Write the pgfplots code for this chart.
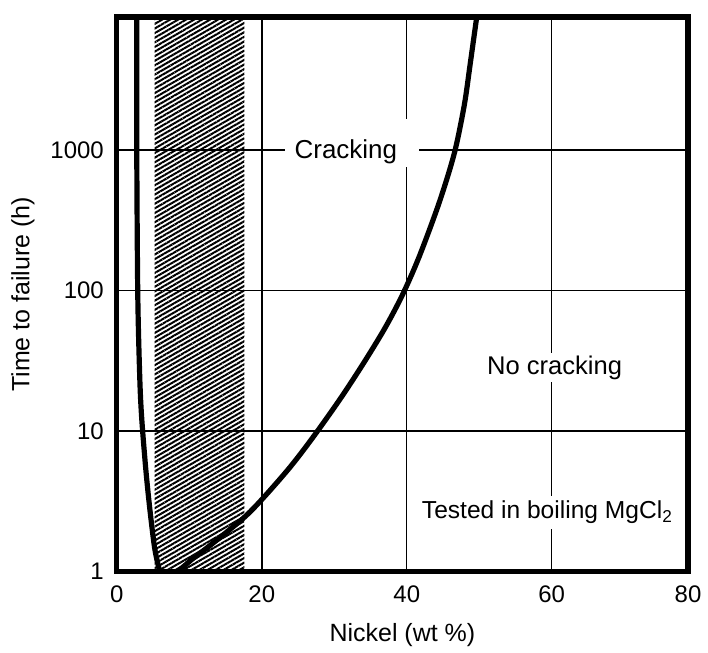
\documentclass[border=0pt]{standalone}
\usepackage{fontspec}
\setmainfont{Liberation Sans}
\usepackage{pgfplots}
\pgfplotsset{compat=1.18}
\usetikzlibrary{patterns.meta}
\begin{document}
\begin{tikzpicture}[font=\fontsize{12.5}{15}\selectfont]
\begin{axis}[
  name=ax,
  scale only axis,
  width=286pt, height=277.75pt,
  xmin=0, xmax=78.8,
  ymode=log, ymin=1, ymax=8870,
  xtick={0,20,40,60,78.8},
  xticklabels={0,20,40,60,80},
  ytick={1,10,100,1000},
  yticklabels={1,10,100,1000},
  minor ytick={},
  major tick length=0pt, minor tick length=0pt,
  grid=major,
  major grid style={black, line width=0.7pt},
  axis line style={black, line width=2.6pt, line cap=rect},
  tick label style={font=\fontsize{12}{14}\selectfont},
  /pgf/number format/assume math mode=true,
  xticklabel style={yshift=-3.5pt},
  yticklabel style={xshift=-3pt},
  xlabel={Nickel (wt \%)},
  ylabel={Time to failure (h)},
  xlabel style={at={(axis description cs:0.5,-0.1134)}, anchor=center},
  ylabel style={at={(axis description cs:-0.1643,0.5)}, anchor=center},
]
% hatched band
\addplot[draw=none, pattern={Lines[angle=30,distance=2pt,line width=1pt]}, forget plot]
  coordinates {(5.2,1) (17.6,1) (17.6,8870) (5.2,8870)} -- cycle;
% left branch
\addplot[black, line width=2.6pt, smooth, tension=0.5] coordinates {
  (2.75,8870) (2.75,1000) (2.89,93) (3.17,23.5) (3.44,12.2) (3.99,5.40)
  (4.55,2.80) (5.23,1.46) (5.92,1.0)
};
% right branch
\addplot[black, line width=2.6pt, smooth, tension=0.5] coordinates {
  (6.6,0.98) (8.26,1.0) (10.47,1.237) (12.81,1.53) (17.36,2.38) (19.97,3.25)
  (23.83,5.49) (27.0,8.96) (30.72,16.7) (33.88,29.6) (36.91,53.3) (39.39,93.0)
  (41.74,176) (44.49,426) (46.56,951) (47.93,2085) (48.76,4146) (49.65,8870)
};
\node[fill=white, minimum width=67.5pt, minimum height=24pt, inner sep=0pt] at (axis cs:32.44,1119) {};
\node[anchor=base, font=\fontsize{13}{15}\selectfont] at (axis cs:31.6,876) {Cracking};
\node[anchor=base, fill=white, inner sep=1.5pt, font=\fontsize{12.8}{15}\selectfont] at (axis cs:60.4,25.5) {No cracking};
\node[anchor=base, fill=white, inner xsep=1.5pt, inner ysep=2.5pt, font=\fontsize{12.3}{15}\selectfont] at (axis cs:59.4,2.38) {Tested in boiling MgCl\textsubscript{2}};
\end{axis}
\path ([shift={(-58.5pt,-38.5pt)}]ax.south west) rectangle ([shift={(9.5pt,8.5pt)}]ax.north east);
\end{tikzpicture}
\end{document}
